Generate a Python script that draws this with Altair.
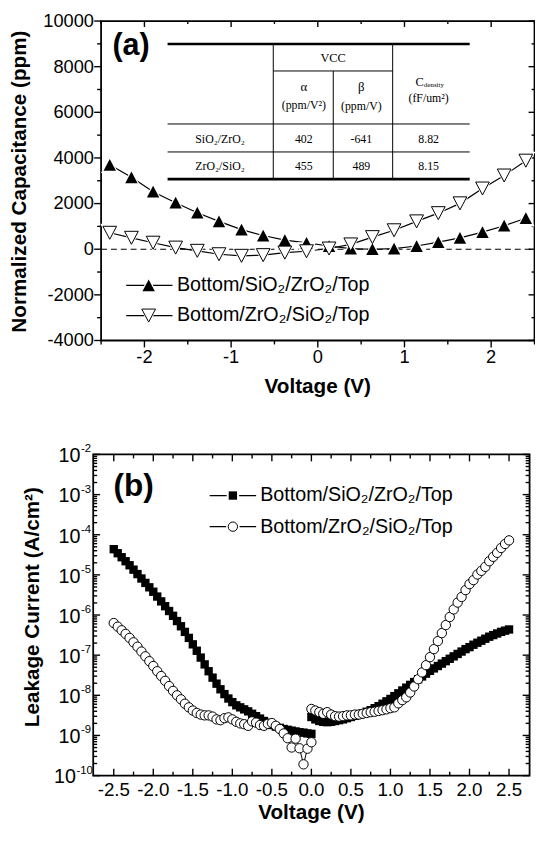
import altair as alt
import pandas as pd

FONT = "Liberation Sans"
SERIF = "Liberation Serif"

# ---------------- data: panel (a) ----------------
volt_a = [-2.40, -2.15, -1.90, -1.64, -1.39, -1.14, -0.88, -0.63, -0.38, -0.13,
          0.13, 0.38, 0.63, 0.88, 1.14, 1.39, 1.64, 1.90, 2.15, 2.40]
cap_sio2_zro2 = [3700, 3150, 2520, 2040, 1600, 1220, 860, 600, 400, 280,
                 140, 30, 0, 30, 140, 310, 500, 750, 1030, 1360]
cap_zro2_sio2 = [720, 500, 285, 70, -70, -220, -290, -260, -150, -90,
                 30, 210, 530, 830, 1220, 1580, 2010, 2660, 3230, 3880]

# ---------------- data: panel (b) (log10 of A/cm2) ----------------
volt_neg = [round(-2.5 + 0.05 * i, 2) for i in range(51)]
volt_pos = [round(0.05 * i, 2) for i in range(51)]
logj_sio2_zro2_neg = [
    -4.36, -4.46, -4.56, -4.66, -4.76, -4.87, -4.98, -5.09, -5.20, -5.31,
    -5.42, -5.54, -5.66, -5.78, -5.90, -6.02, -6.15, -6.28, -6.42, -6.57,
    -6.73, -6.89, -7.06, -7.23, -7.40, -7.56, -7.71, -7.85, -7.97, -8.08,
    -8.17, -8.25, -8.30, -8.35, -8.40, -8.46, -8.52, -8.58, -8.64, -8.69,
    -8.74, -8.78, -8.81, -8.84, -8.86, -8.88, -8.90, -8.92, -8.93, -8.95,
    -8.96]
logj_sio2_zro2_pos = [
    -8.54, -8.60, -8.64, -8.66, -8.67, -8.66, -8.64, -8.62, -8.60, -8.57,
    -8.54, -8.51, -8.48, -8.45, -8.41, -8.37, -8.32, -8.27, -8.21, -8.15,
    -8.09, -8.02, -7.95, -7.88, -7.81, -7.74, -7.67, -7.60, -7.53, -7.46,
    -7.39, -7.33, -7.27, -7.21, -7.15, -7.09, -7.03, -6.97, -6.91, -6.85,
    -6.80, -6.74, -6.69, -6.64, -6.59, -6.54, -6.50, -6.46, -6.42, -6.39,
    -6.36]
logj_zro2_sio2_neg = [
    -6.20, -6.29, -6.38, -6.47, -6.57, -6.68, -6.79, -6.91, -7.03, -7.15,
    -7.27, -7.40, -7.52, -7.64, -7.77, -7.89, -8.00, -8.10, -8.21, -8.30,
    -8.38, -8.44, -8.48, -8.50, -8.50, -8.53, -8.60, -8.62, -8.57, -8.55,
    -8.60, -8.66, -8.70, -8.72, -8.76, -8.65, -8.68, -8.74, -8.76, -8.71,
    -8.69, -8.76, -8.84, -8.95, -9.07, -9.30, -9.08, -9.32, -9.72, -9.33,
    -9.17]
logj_zro2_sio2_pos = [
    -8.34, -8.38, -8.42, -8.46, -8.42, -8.48, -8.52, -8.53, -8.52, -8.50,
    -8.50, -8.48, -8.48, -8.46, -8.44, -8.42, -8.41, -8.39, -8.37, -8.35,
    -8.32, -8.30, -8.20, -8.12, -8.05, -7.93, -7.78, -7.60, -7.43, -7.25,
    -7.05, -6.85, -6.65, -6.45, -6.25, -6.05, -5.86, -5.69, -5.55, -5.38,
    -5.23, -5.13, -4.99, -4.90, -4.80, -4.66, -4.55, -4.45, -4.33, -4.23,
    -4.14]

series_names = ["Bottom/SiO\u2082/ZrO\u2082/Top", "Bottom/ZrO\u2082/SiO\u2082/Top"]

# inset table (a)
table_row_labels = ["SiO\u2082/ZrO\u2082", "ZrO\u2082/SiO\u2082"]
table_alpha = ["402", "455"]
table_beta = ["-641", "489"]
table_cdens = ["8.82", "8.15"]

# ticks and tick labels
xa_major = [-2, -1, 0, 1, 2]
xa_labels = ["-2", "-1", "0", "1", "2"]
xa_minor = [-2.5, -1.5, -0.5, 0.5, 1.5, 2.5]
ya_major = [-4000, -2000, 0, 2000, 4000, 6000, 8000, 10000]
ya_labels = ["-4000", "-2000", "0", "2000", "4000", "6000", "8000", "10000"]
ya_minor = [-3000, -1000, 1000, 3000, 5000, 7000, 9000]
xb_major = [-2.5, -2.0, -1.5, -1.0, -0.5, 0.0, 0.5, 1.0, 1.5, 2.0, 2.5]
xb_labels = ["-2.5", "-2.0", "-1.5", "-1.0", "-0.5", "0.0", "0.5", "1.0", "1.5", "2.0", "2.5"]
xb_minor = [-2.25, -1.75, -1.25, -0.75, -0.25, 0.25, 0.75, 1.25, 1.75, 2.25]
decades = [1e-10, 1e-9, 1e-8, 1e-7, 1e-6, 1e-5, 1e-4, 1e-3, 1e-2]
decade_exps = ["-10", "-9", "-8", "-7", "-6", "-5", "-4", "-3", "-2"]
yb_minor = [k * d for d in decades[:-1] for k in range(2, 10)]

# ---------------- layout (page pixels; drawing origin is at the 8px page margin) ----------------
W, H = 535, 822


def P(v):
    return v - 8


A_L, A_R, A_T, A_B = 102.5, 542.5, 15.0, 339.3
B_L, B_R, B_T, B_B = 94.5, 537.5, 455.0, 781.0

xs_a = alt.Scale(domain=[-2.5, 2.5], range=[P(A_L), P(A_R)], nice=False, zero=False)
ys_a = alt.Scale(domain=[-4000, 10000], range=[P(A_B), P(A_T)], nice=False, zero=False)
xs_b = alt.Scale(domain=[-2.76, 2.76], range=[P(B_L), P(B_R)], nice=False, zero=False)
ys_b = alt.Scale(type="log", domain=[1e-10, 1e-2], range=[P(B_B), P(B_T)], nice=False)

dummy = pd.DataFrame({"k": [0]})
TICKW = 1.4
TRI_UP = "M0,-0.9L0.95,0.9L-0.95,0.9Z"
TRI_DN = "M0,0.9L0.95,-0.9L-0.95,-0.9Z"
SZ_UP, SZ_DN, HALO_UP, HALO_DN = 175, 215, 350, 410
SZ_SQ, SZ_CI = 72, 90

layers = []


def X(f, s):
    return alt.X(f, scale=s, axis=None)


def Y(f, s):
    return alt.Y(f, scale=s, axis=None)


def frame(xs, ys, x1, x2, y1, y2):
    df = pd.DataFrame({"x1": [x1], "x2": [x2], "y1": [y1], "y2": [y2]})
    return alt.Chart(df).mark_rect(fillOpacity=0, stroke="black", strokeWidth=1.8).encode(
        x=X("x1:Q", xs), x2="x2:Q", y=Y("y1:Q", ys), y2="y2:Q")


def xticks(vals, xs, y1, y2):
    return alt.Chart(pd.DataFrame({"V": vals})).mark_rule(color="black", strokeWidth=TICKW).encode(
        x=X("V:Q", xs), y=alt.value(P(y1)), y2=alt.value(P(y2)))


def yticks(vals, ys, x1, x2):
    return alt.Chart(pd.DataFrame({"Y": vals})).mark_rule(color="black", strokeWidth=TICKW).encode(
        y=Y("Y:Q", ys), x=alt.value(P(x1)), x2=alt.value(P(x2)))


def xlabels(vals, labs, xs, y, size):
    df = pd.DataFrame({"V": vals, "t": labs})
    return alt.Chart(df).mark_text(font=FONT, fontSize=size, baseline="middle", align="center",
                                   color="black").encode(x=X("V:Q", xs), y=alt.value(P(y)), text="t:N")


def ylabels(vals, labs, ys, x, size, dy=0, align="right"):
    df = pd.DataFrame({"Y": vals, "t": labs})
    return alt.Chart(df).mark_text(font=FONT, fontSize=size, baseline="middle", align=align,
                                   dy=dy, color="black").encode(
        y=Y("Y:Q", ys), x=alt.value(P(x)), text="t:N")


def text(txt, x, y, size, font=FONT, weight="normal", align="center", angle=0):
    props = dict(text=txt, font=font, fontSize=size, fontWeight=weight, align=align,
                 baseline="middle", color="black")
    if angle:
        props["angle"] = angle
    return alt.Chart(dummy).mark_text(**props).encode(x=alt.value(P(x)), y=alt.value(P(y)))


def hrule(x1, x2, y, w, dash=None):
    props = dict(color="black", strokeWidth=w)
    if dash:
        props["strokeDash"] = dash
    return alt.Chart(dummy).mark_rule(**props).encode(
        x=alt.value(P(x1)), x2=alt.value(P(x2)), y=alt.value(P(y)))


def vrule(x, y1, y2, w):
    return alt.Chart(dummy).mark_rule(color="black", strokeWidth=w).encode(
        x=alt.value(P(x)), y=alt.value(P(y1)), y2=alt.value(P(y2)))


def symbol(x, y, shape, size, fill, stroke=None):
    props = dict(shape=shape, size=size, filled=True, fill=fill, opacity=1, fillOpacity=1)
    if stroke:
        props.update(stroke=stroke, strokeWidth=1)
    else:
        props.update(strokeWidth=0)
    return alt.Chart(dummy).mark_point(**props).encode(x=alt.value(P(x)), y=alt.value(P(y)))


# ================= panel (a) =================
dfa1 = pd.DataFrame({"V": volt_a, "C": cap_sio2_zro2})
dfa2 = pd.DataFrame({"V": volt_a, "C": cap_zro2_sio2})
dfa0 = pd.DataFrame({"x1": [-2.5], "x2": [2.5], "C": [0]})

layers += [
    frame(xs_a, ys_a, -2.5, 2.5, -4000, 10000),
    xticks(xa_major, xs_a, A_B, A_B + 7), xticks(xa_minor, xs_a, A_B, A_B + 4),
    xticks(xa_major, xs_a, A_T, A_T + 6), xticks(xa_minor, xs_a, A_T, A_T + 3),
    yticks(ya_major, ys_a, A_L - 7, A_L), yticks(ya_minor, ys_a, A_L - 4, A_L),
    yticks(ya_major, ys_a, A_R - 6, A_R), yticks(ya_minor, ys_a, A_R - 3, A_R),
    xlabels(xa_major, xa_labels, xs_a, 356.5, 18.5),
    ylabels(ya_major, ya_labels, ys_a, 95.3, 18.5),
    text("Voltage (V)", 322.5, 387.0, 21, weight="bold"),
    text("Normalized Capacitance (ppm)", 20.5, 178.0, 21, weight="bold", angle=270),
    alt.Chart(dfa0).mark_rule(color="black", strokeWidth=1.2, strokeDash=[6, 4]).encode(
        x=X("x1:Q", xs_a), x2="x2:Q", y=Y("C:Q", ys_a)),
]


def enc_a(ch):
    return ch.encode(x=X("V:Q", xs_a), y=Y("C:Q", ys_a))


layers += [
    enc_a(alt.Chart(dfa1).mark_line(color="black", strokeWidth=1.2)),
    enc_a(alt.Chart(dfa2).mark_line(color="black", strokeWidth=1.2)),
    enc_a(alt.Chart(dfa1).mark_point(shape=TRI_UP, size=HALO_UP, filled=True, fill="white",
                                     opacity=1, strokeWidth=0)),
    enc_a(alt.Chart(dfa2).mark_point(shape=TRI_DN, size=HALO_DN, filled=True, fill="white",
                                     opacity=1, strokeWidth=0)),
    enc_a(alt.Chart(dfa1).mark_point(shape=TRI_UP, size=SZ_UP, filled=True, fill="black",
                                     opacity=1, strokeWidth=0)),
    enc_a(alt.Chart(dfa2).mark_point(shape=TRI_DN, size=SZ_DN, filled=True, fill="white",
                                     stroke="black", strokeWidth=1, opacity=1)),
]

# inset table (page pixels)
layers += [
    hrule(170.0, 476.7, 38.3, 2.6), hrule(277.3, 398.5, 65.7, 1.0),
    hrule(170.0, 476.7, 119.5, 1.0), hrule(170.0, 476.7, 147.9, 1.0),
    hrule(170.0, 476.7, 175.5, 2.6),
    vrule(277.3, 38.3, 175.5, 1.0), vrule(338.2, 65.7, 175.5, 1.0), vrule(398.5, 38.3, 175.5, 1.0),
    text("VCC", 338.0, 52.3, 12.5, SERIF),
    text("\u03b1", 308.3, 82.5, 13, SERIF), text("(ppm/V\u00b2)", 308.3, 100.5, 12, SERIF),
    text("\u03b2", 366.7, 81.7, 13, SERIF), text("(ppm/V)", 366.7, 101.5, 12, SERIF),
    text("C", 430.0, 76.7, 12.5, SERIF, align="right"),
    text("density", 430.3, 80.0, 7, SERIF, align="left"),
    text("(fF/um\u00b2)", 435.0, 93.0, 12, SERIF),
]
row_y = [135.0, 162.7]
for i in range(2):
    layers += [text(table_row_labels[i], 223.3, row_y[i], 12, SERIF),
               text(table_alpha[i], 308.3, row_y[i], 12, SERIF),
               text(table_beta[i], 366.7, row_y[i], 12, SERIF),
               text(table_cdens[i], 435.0, row_y[i], 12, SERIF)]

# legend (a)
for yy, shape, sz, hsz, fill, name in [(283.3, TRI_UP, SZ_UP, HALO_UP, "black", series_names[0]),
                                       (314.0, TRI_DN, SZ_DN, HALO_DN, "white", series_names[1])]:
    layers += [hrule(128.0, 175.0, yy, 1.2),
               symbol(150.8, yy, shape, hsz, "white"),
               symbol(150.8, yy, shape, sz, fill, stroke="black" if fill == "white" else None),
               text(name, 179.5, yy, 20, align="left")]

layers.append(text("(a)", 114.0, 40.0, 31, weight="bold", align="left"))

# ================= panel (b) =================
dfb1 = pd.DataFrame({"V": volt_neg + volt_pos,
                     "I": [10 ** v for v in logj_sio2_zro2_neg + logj_sio2_zro2_pos],
                     "br": ["n"] * 51 + ["p"] * 51})
dfb2 = pd.DataFrame({"V": volt_neg + volt_pos,
                     "I": [10 ** v for v in logj_zro2_sio2_neg + logj_zro2_sio2_pos],
                     "br": ["n"] * 51 + ["p"] * 51})

layers += [
    frame(xs_b, ys_b, -2.76, 2.76, 1e-10, 1e-2),
    xticks(xb_major, xs_b, B_B - 7, B_B), xticks(xb_minor, xs_b, B_B - 4, B_B),
    xticks(xb_major, xs_b, B_T, B_T + 7), xticks(xb_minor, xs_b, B_T, B_T + 4),
    yticks(decades, ys_b, B_L, B_L + 7), yticks(yb_minor, ys_b, B_L, B_L + 4),
    yticks(decades, ys_b, B_R - 7, B_R), yticks(yb_minor, ys_b, B_R - 4, B_R),
    xlabels(xb_major, xb_labels, xs_b, 796.0, 19),
    # decade labels: "10" with a raised exponent (the two-digit one sits a little further left)
    ylabels(decades[1:], ["10"] * (len(decades) - 1), ys_b, 81.5, 20, dy=2),
    ylabels(decades[1:], decade_exps[1:], ys_b, 82.0, 11.5, dy=-5, align="left"),
    ylabels(decades[:1], ["10"], ys_b, 77.0, 20, dy=2),
    ylabels(decades[:1], decade_exps[:1], ys_b, 77.5, 11.5, dy=-5, align="left"),
    text("Voltage (V)", 316.0, 819.0, 21, weight="bold"),
    text("Leakage Current (A/cm\u00b2)", 33.6, 610.0, 21, weight="bold", angle=270),
]


def enc_b(ch):
    return ch.encode(x=X("V:Q", xs_b), y=Y("I:Q", ys_b), detail="br:N")


layers += [
    enc_b(alt.Chart(dfb1).mark_line(color="black", strokeWidth=1)),
    enc_b(alt.Chart(dfb1).mark_point(shape="square", size=SZ_SQ, filled=True, fill="black",
                                     opacity=1, strokeWidth=0)),
    enc_b(alt.Chart(dfb2).mark_line(color="black", strokeWidth=1)),
    enc_b(alt.Chart(dfb2).mark_point(shape="circle", size=SZ_CI, filled=True, fill="white",
                                     stroke="black", strokeWidth=1, opacity=1)),
]

# legend (b)
for yy, shape, sz, hsz, fill, name in [(496.7, "square", SZ_SQ, 160, "black", series_names[0]),
                                       (528.3, "circle", SZ_CI, 190, "white", series_names[1])]:
    layers += [hrule(212.7, 259.9, yy, 1.2),
               symbol(236.3, yy, shape, hsz, "white"),
               symbol(236.3, yy, shape, sz, fill, stroke="black" if fill == "white" else None),
               text(name, 264.0, yy, 20, align="left")]

layers.append(text("(b)", 115.0, 487.5, 32, weight="bold", align="left"))

chart = alt.layer(*layers).resolve_scale(x="independent", y="independent").properties(
    width=W, height=H, padding=0, background="white",
    autosize=alt.AutoSizeParams(type="none"),
).configure(font=FONT).configure_view(stroke="transparent")

chart.save("out.html", embed_options={"renderer": "svg", "actions": False})
